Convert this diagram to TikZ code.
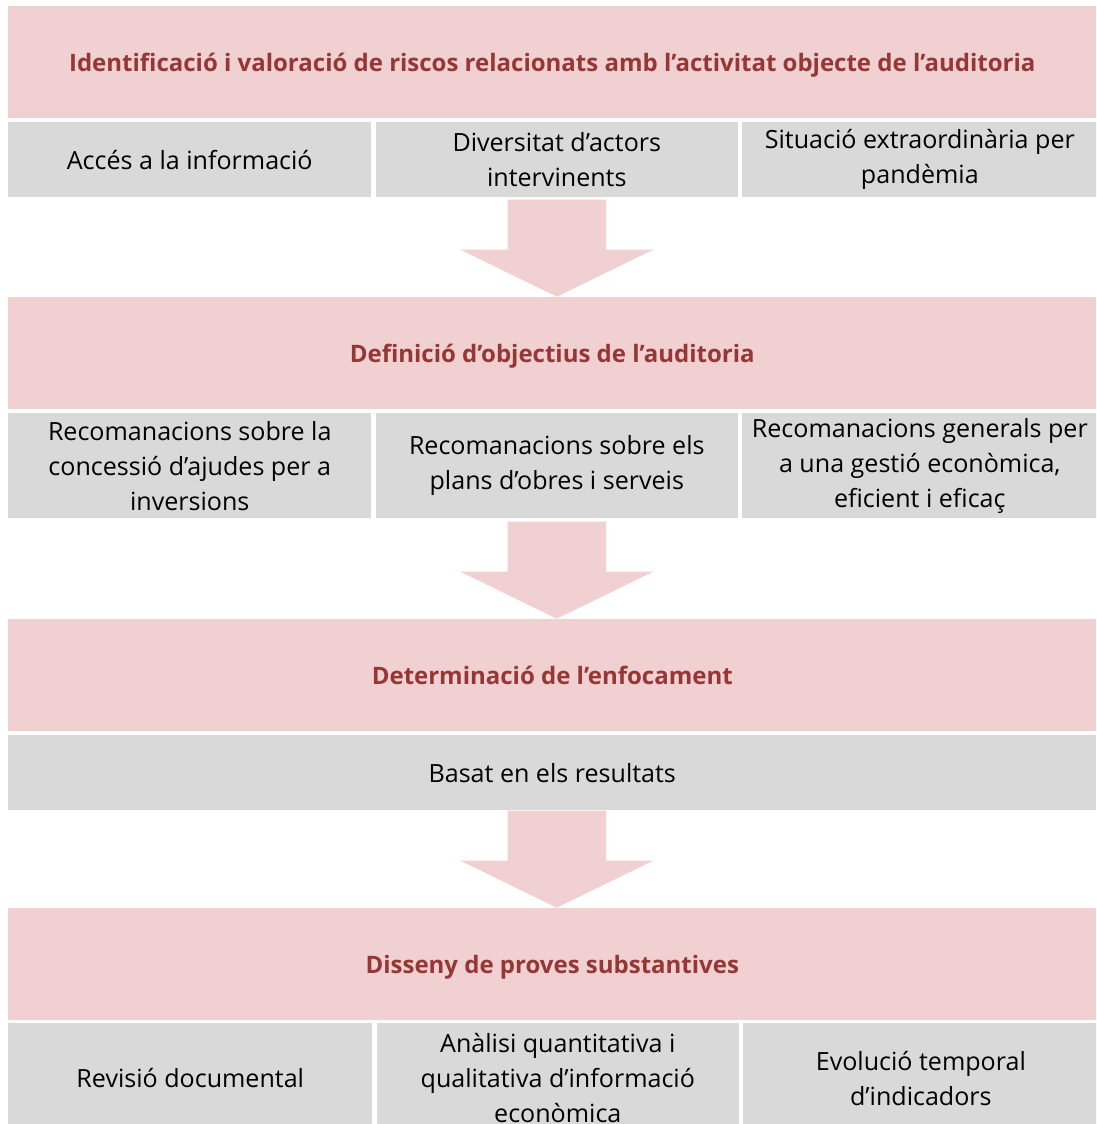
\documentclass[tikz,border=0pt]{standalone}
\usepackage{fontspec}
\setmainfont{Open Sans}
\usetikzlibrary{positioning,shapes.arrows}

\definecolor{stagepink}{RGB}{240,208,209}
\definecolor{cellgray}{RGB}{217,217,217}
\definecolor{stagered}{RGB}{150,55,53}

\tikzset{
  stagebox/.style={fill=stagepink, anchor=north west, inner sep=0pt,
    minimum width=816pt, minimum height=84pt, text=stagered,
    text height=14pt, text depth=0pt,
    font=\fontsize{18}{22}\selectfont\bfseries},
  cellbox/.style={fill=cellgray, inner sep=0pt, align=center,
    font=\fontsize{18.8}{26.25}\selectfont},
  downarrow/.style={single arrow, fill=stagepink, draw=none, rotate=-90,
    anchor=tip, inner xsep=0pt, inner ysep=36.75pt,
    single arrow head extend=35.6pt, single arrow tip angle=128,
    minimum height=72.75pt}
}

\begin{document}
\begin{tikzpicture}[x=0.75pt,y=-0.75pt]
\useasboundingbox (0,0) rectangle (1096,1124);
\clip (0,0) rectangle (1096,1124);

% Stage 1
\node [stagebox] (stageA) at (8,6) {Identificació i valoració de riscos relacionats amb l’activitat objecte de l’auditoria};
\node [cellbox, anchor=north west, minimum width=272.25pt, minimum height=56.25pt] (riskA) at (8,122) {Accés a la informació};
\node [cellbox, right=3pt of riskA, minimum width=271.5pt, minimum height=56.25pt] (riskB) {Diversitat d’actors\\intervinents};
\node [cellbox, right=3pt of riskB, minimum width=266.25pt, minimum height=56.25pt] (riskC) {Situació extraordinària per\\pandèmia};

% Stage 2
\node [stagebox] (stageB) at (8,297) {Definició d’objectius de l’auditoria};
\node [downarrow] (arrowA) at (stageB.north -| riskB.center) {};
\node [cellbox, anchor=north west, minimum width=272.25pt, minimum height=78.75pt] (goalA) at (8,413) {Recomanacions sobre la\\concessió d’ajudes per a\\inversions};
\node [cellbox, right=3pt of goalA, minimum width=271.5pt, minimum height=78.75pt] (goalB) {Recomanacions sobre els\\plans d’obres i serveis};
\node [cellbox, right=3pt of goalB, minimum width=266.25pt, minimum height=78.75pt] (goalC) {Recomanacions generals per\\a una gestió econòmica,\\eficient i eficaç};

% Stage 3
\node [stagebox] (stageC) at (8,619) {Determinació de l’enfocament};
\node [downarrow] (arrowB) at (stageC.north -| goalB.center) {};
\node [cellbox, anchor=north west, minimum width=816pt, minimum height=56.25pt] (focus) at (8,735) {Basat en els resultats};

% Stage 4
\node [stagebox] (stageD) at (8,908) {Disseny de proves substantives};
\node [downarrow] (arrowC) at (stageD.north -| goalB.center) {};
\node [cellbox, anchor=north west, minimum width=273pt, minimum height=82.5pt] (testA) at (8,1023) {Revisió documental};
\node [cellbox, right=3pt of testA, minimum width=271.5pt, minimum height=82.5pt] (testB) {Anàlisi quantitativa i\\qualitativa d’informació\\econòmica};
\node [cellbox, right=3pt of testB, minimum width=266.25pt, minimum height=82.5pt] (testC) {Evolució temporal\\d’indicadors};

\end{tikzpicture}
\end{document}
